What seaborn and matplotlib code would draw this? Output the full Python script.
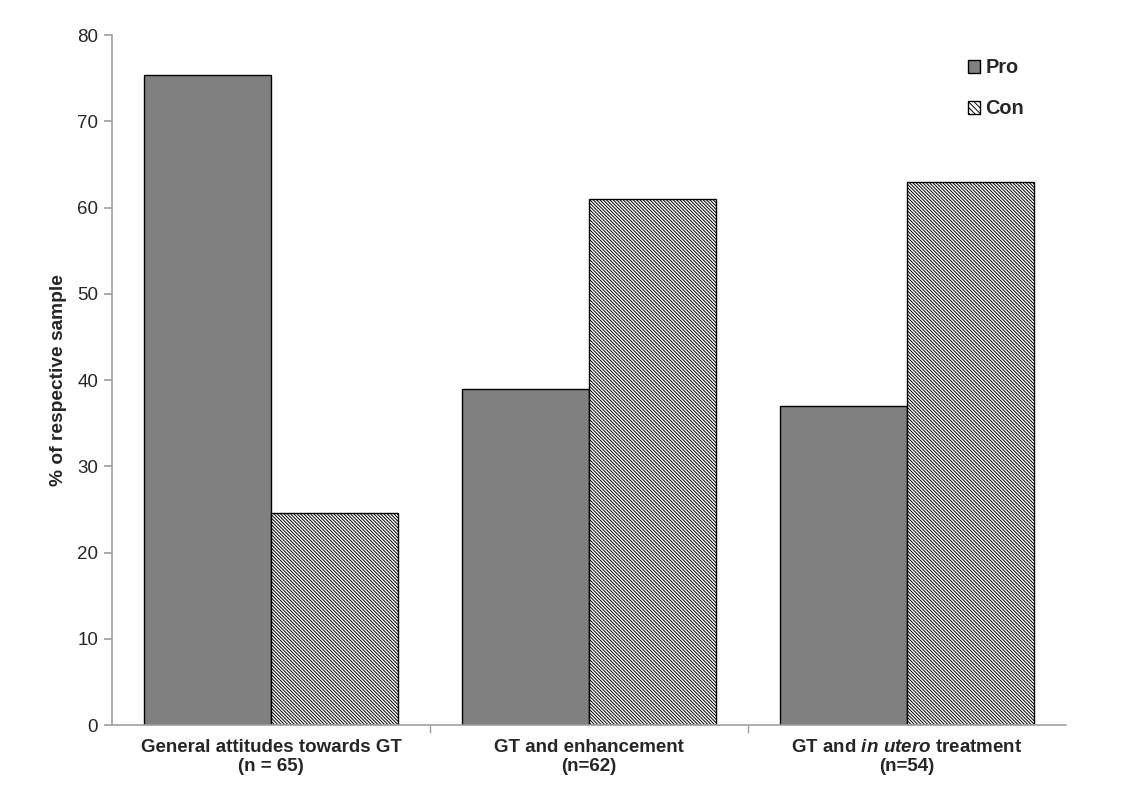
import matplotlib
matplotlib.use("Agg")
import matplotlib.pyplot as plt
from matplotlib.patches import Patch
import pandas as pd
import seaborn as sns

# values
groups = ["General attitudes towards GT\n(n = 65)",
          "GT and enhancement\n(n=62)",
          "GT and $\\it{in\\ utero}$ treatment\n(n=54)"]
pro = [75.4, 39.0, 37.0]
con = [24.6, 61.0, 63.0]
series = ["Pro", "Con"]
y_ticks = [0, 10, 20, 30, 40, 50, 60, 70, 80]

df = pd.DataFrame({
    "group": groups * 2,
    "answer": ["Pro"] * 3 + ["Con"] * 3,
    "pct": pro + con,
})

sns.set_theme(style="white")
plt.rcParams["font.family"] = ["Liberation Sans", "DejaVu Sans"]
plt.rcParams["mathtext.fontset"] = "custom"
plt.rcParams["mathtext.it"] = "Liberation Sans:italic:bold"
plt.rcParams["mathtext.rm"] = "Liberation Sans:bold"
plt.rcParams["hatch.linewidth"] = 0.7
plt.rcParams["hatch.color"] = "black"

fig = plt.figure(figsize=(11.25, 7.94), dpi=100)
ax = fig.add_axes([0.0996, 0.0869, 0.848, 0.869])

sns.barplot(data=df, x="group", y="pct", hue="answer", hue_order=series,
            palette={"Pro": "#808080", "Con": "white"}, width=0.8,
            edgecolor="black", linewidth=1, legend=False, ax=ax)
for p in ax.containers[1].patches:
    p.set_hatch("\\" * 10)

ax.set_xlim(-0.5, 2.5)
ax.set_ylim(0, 80)
ax.set_yticks(y_ticks)
ax.set_xlabel("")
ax.set_ylabel("% of respective sample", fontsize=13.8, fontweight="bold", labelpad=7)

for s in ["top", "right"]:
    ax.spines[s].set_visible(False)
for s in ["left", "bottom"]:
    ax.spines[s].set_color("#a0a0a0")
    ax.spines[s].set_linewidth(1.2)

ax.tick_params(axis="y", left=True, length=6, color="#a0a0a0", labelsize=13.5, pad=4)
ax.tick_params(axis="x", which="major", length=0, labelsize=13.5, pad=10)
ax.set_xticks([0.5, 1.5], minor=True)
ax.tick_params(axis="x", which="minor", bottom=True, length=6, color="#a0a0a0")
for lab in ax.get_xticklabels():
    lab.set_fontweight("bold")

handles = [Patch(facecolor="#808080", edgecolor="black", label="Pro"),
           Patch(facecolor="white", edgecolor="black", hatch="\\" * 6, label="Con")]
leg = ax.legend(handles=handles, loc="upper right", bbox_to_anchor=(0.975, 0.992),
                frameon=False, handlelength=0.6, handleheight=0.6, handletextpad=0.3,
                labelspacing=1.1, prop={"weight": "bold", "size": 14.3})

plt.savefig("out.png", dpi=100)
plt.close()
